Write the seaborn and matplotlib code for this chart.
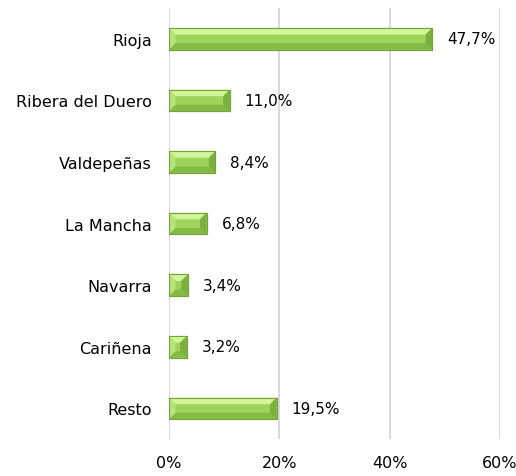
import matplotlib
matplotlib.use("Agg")
import matplotlib.pyplot as plt
from matplotlib.patches import Polygon
import seaborn as sns
import pandas as pd

categories = ["Rioja", "Ribera del Duero", "Valdepeñas", "La Mancha", "Navarra", "Cariñena", "Resto"]
values = [47.7, 11.0, 8.4, 6.8, 3.4, 3.2, 19.5]
x_ticks = [0, 20, 40, 60]
x_tick_labels = ["0%", "20%", "40%", "60%"]

df = pd.DataFrame({"region": categories, "share": values})

sns.set_theme(style="white")
plt.rcParams["font.family"] = ["DejaVu Sans"]

fig = plt.figure(figsize=(5.16, 4.77), dpi=100)
ax = fig.add_axes([0.3275, 0.077, 0.6415, 0.904])

sns.barplot(data=df, x="share", y="region", orient="h", color="#9ed35c",
            saturation=1, width=0.35, edgecolor="#74a33c", linewidth=0.8,
            ax=ax, zorder=3)

ax.set_xlim(0, 60)
ax.set_ylim(6.5, -0.5)
ax.set_xticks(x_ticks)
ax.set_xticklabels(x_tick_labels, fontsize=11.5)
ax.set_xlabel("")
ax.set_ylabel("")
ax.tick_params(axis="y", length=0, pad=12.5, labelsize=11.5, labelcolor="#000000")
ax.tick_params(axis="x", length=0, pad=11, labelcolor="#000000")
for s in ax.spines.values():
    s.set_visible(False)
ax.grid(axis="x", color="#d9d9d9", linewidth=1.4, zorder=0)
ax.set_axisbelow(True)

fig.canvas.draw()
# bevel shading on each bar, sized in pixels
px_x = 60 / ax.bbox.width
px_y = 7 / ax.bbox.height
bx, by = 6.5 * px_x, 6.5 * px_y
for bar, v in zip(ax.patches, values):
    x0, y0 = bar.get_x(), bar.get_y()
    w, h = bar.get_width(), bar.get_height()
    x1, y1 = x0 + w, y0 + h
    b = min(bx, w / 2)
    top = [(x0, y0), (x1, y0), (x1 - b, y0 + by), (x0 + b, y0 + by)]
    bot = [(x0, y1), (x1, y1), (x1 - b, y1 - by), (x0 + b, y1 - by)]
    left = [(x0, y0), (x0 + b, y0 + by), (x0 + b, y1 - by), (x0, y1)]
    right = [(x1, y0), (x1 - b, y0 + by), (x1 - b, y1 - by), (x1, y1)]
    for pts, c in [(top, "#d2f597"), (bot, "#84bb47"), (left, "#b6e479"), (right, "#7cae40")]:
        ax.add_patch(Polygon(pts, closed=True, facecolor=c, edgecolor="none", zorder=4))
    ax.add_patch(Polygon([(x0, y0), (x1, y0), (x1, y1), (x0, y1)], closed=True,
                         fill=False, edgecolor="#74a33c", linewidth=0.8, zorder=5))
    ax.text(x1 + 15 * px_x, bar.get_y() + h / 2, f"{v:.1f}%".replace(".", ","),
            va="center", ha="left", fontsize=11, color="#000000", zorder=6)

fig.savefig("out.png", dpi=100)
